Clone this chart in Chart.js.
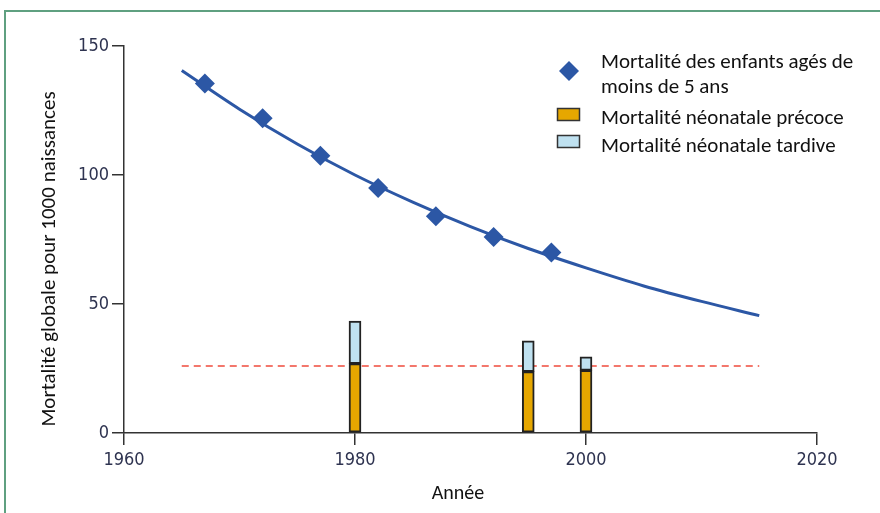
<!DOCTYPE html>
<html><head><meta charset="utf-8">
<script src="https://cdn.jsdelivr.net/npm/chart.js@4.4.1/dist/chart.umd.min.js"></script>
<style>
html,body{margin:0;padding:0;background:#fff;}
#wrap{position:relative;width:880px;height:513px;overflow:hidden;}
#frame{position:absolute;left:4px;top:10px;width:1000px;height:1000px;border-left:2px solid #5fa080;border-top:2px solid #5fa080;pointer-events:none;}
canvas{position:absolute;left:0;top:0;}
</style></head><body>
<div id="wrap"><canvas id="c" width="880" height="513"></canvas><div id="frame"></div></div>
<script>
const under5Years = [1967, 1972, 1977, 1982, 1987, 1992, 1997];
const under5Values = [135.5, 122, 107.5, 95, 84, 76, 70];
const trendYears = [1965, 1970, 1975, 1980, 1985, 1990, 1995, 2000, 2005, 2010, 2015];
const trendValues = [140.5, 125.5, 112, 100, 89.5, 80, 71.5, 64, 57, 51, 45.5];
const barYears = [1980, 1995, 2000];
const earlyNeonatal = [26.9, 23.8, 24.3];
const lateNeonatal = [16.5, 11.9, 5.2];
const targetYears = [1965, 2015];
const targetValues = [26, 26];
const xTicks = [1960, 1980, 2000, 2020];
const yTicks = [0, 50, 100, 150];
const legendLabels = [["Mortalité des enfants agés de", "moins de 5 ans"], ["Mortalité néonatale précoce"], ["Mortalité néonatale tardive"]];
const xTitle = "Année";
const yTitle = "Mortalité globale pour 1000 naissances";

const blue = '#2c57a5';
const orange = '#e6a700';
const lightBlue = '#bfe1f0';
const uiFont = 'Carlito, Lato, "Open Sans", sans-serif';
const tickFont = '"DejaVu Sans Condensed", "DejaVu Sans", sans-serif';

const pairs = (xs, ys) => xs.map((x, i) => ({x: x, y: ys[i]}));

const overlay = {
  id: 'overlay',
  afterDraw(chart) {
    const ctx = chart.ctx;
    ctx.save();
    ctx.fillStyle = '#111';
    ctx.textBaseline = 'alphabetic';
    // x title
    ctx.font = '20px ' + uiFont;
    ctx.textAlign = 'center';
    ctx.fillText(xTitle, 458, 499);
    // y title
    ctx.font = '21px ' + uiFont;
    ctx.save();
    ctx.translate(55, 259);
    ctx.rotate(-Math.PI / 2);
    ctx.fillText(yTitle, 0, 0);
    ctx.restore();
    // legend
    ctx.textAlign = 'left';
    ctx.font = '21px ' + uiFont;
    ctx.fillText(legendLabels[0][0], 601, 68);
    ctx.fillText(legendLabels[0][1], 601, 93);
    ctx.fillText(legendLabels[1][0], 601, 124);
    ctx.fillText(legendLabels[2][0], 601, 152);
    // diamond
    ctx.fillStyle = blue;
    ctx.beginPath();
    ctx.moveTo(569, 61); ctx.lineTo(579, 71); ctx.lineTo(569, 81); ctx.lineTo(559, 71); ctx.closePath();
    ctx.fill();
    // boxes
    ctx.lineWidth = 1.5;
    ctx.strokeStyle = '#333';
    ctx.fillStyle = orange;
    ctx.fillRect(557.5, 108.5, 22, 12); ctx.strokeRect(557.5, 108.5, 22, 12);
    ctx.fillStyle = lightBlue;
    ctx.fillRect(557.5, 135.5, 22, 12); ctx.strokeRect(557.5, 135.5, 22, 12);
    ctx.restore();
  }
};

new Chart(document.getElementById('c'), {
  type: 'line',
  data: {
    datasets: [
      {type: 'scatter', data: pairs(under5Years, under5Values), pointStyle: 'rectRot', pointRadius: 10,
       backgroundColor: blue, borderColor: blue, borderWidth: 0, showLine: false, order: 1},
      {type: 'line', data: pairs(trendYears, trendValues), borderColor: blue, borderWidth: 3, pointRadius: 0,
       tension: 0.4, cubicInterpolationMode: 'monotone', fill: false, order: 2},
      {type: 'bar', data: pairs(barYears, earlyNeonatal), backgroundColor: orange, borderColor: '#222',
       borderWidth: 2, borderSkipped: false, barThickness: 12, stack: 'neo', order: 3},
      {type: 'bar', data: pairs(barYears, lateNeonatal), backgroundColor: lightBlue, borderColor: '#222',
       borderWidth: 2, borderSkipped: false, barThickness: 12, stack: 'neo', order: 3},
      {type: 'line', data: pairs(targetYears, targetValues), borderColor: '#ef4b3c', borderWidth: 1.5,
       borderDash: [7, 5], pointRadius: 0, fill: false, order: 5}
    ]
  },
  options: {
    responsive: false,
    animation: false,
    events: [],
    layout: {padding: {top: 46, right: 63, left: 0, bottom: 0}},
    plugins: {legend: {display: false}, tooltip: {enabled: false}, title: {display: false}},
    scales: {
      x: {
        type: 'linear', min: 1960, max: 2020, offset: false,
        afterBuildTicks: s => { s.ticks = xTicks.map(v => ({value: v})); },
        afterFit: s => { s.height = 80; },
        grid: {display: true, drawOnChartArea: false, drawTicks: true, tickLength: 12, color: '#333', lineWidth: 1.5, offset: false},
        border: {display: true, color: '#333', width: 1.5},
        ticks: {font: {family: tickFont, size: 18}, color: '#2e3350', padding: 5, maxRotation: 0, autoSkip: false,
                callback: v => String(v)}
      },
      y: {
        type: 'linear', min: 0, max: 150,
        afterBuildTicks: s => { s.ticks = yTicks.map(v => ({value: v})); },
        afterFit: s => { s.width = 124; },
        grid: {display: true, drawOnChartArea: false, drawTicks: true, tickLength: 12, color: '#333', lineWidth: 1.5},
        border: {display: true, color: '#333', width: 1.5},
        ticks: {font: {family: tickFont, size: 18}, color: '#2e3350', padding: 3, callback: v => String(v)}
      }
    }
  },
  plugins: [overlay]
});
</script>
</body></html>
